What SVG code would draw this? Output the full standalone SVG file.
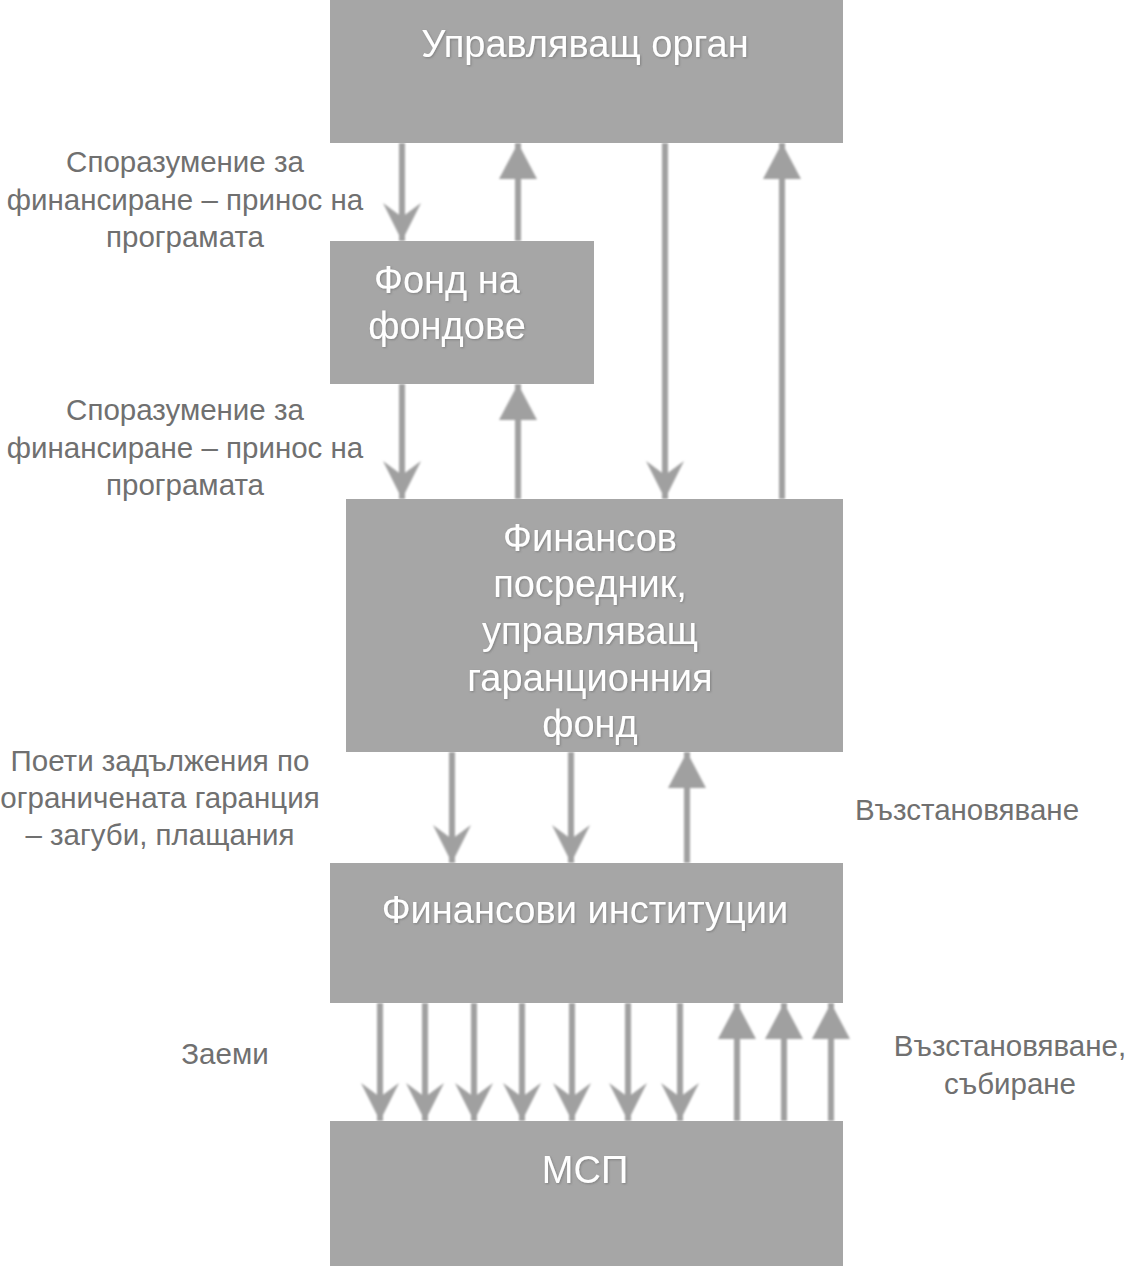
<svg xmlns="http://www.w3.org/2000/svg" width="1125" height="1266" viewBox="0 0 1125 1266">
<style>
.box{fill:#a6a6a6;}
.bt{font-family:"Liberation Sans",Arial,sans-serif;font-size:38px;fill:#ffffff;text-anchor:middle;}
.lb{font-family:"Liberation Sans",Arial,sans-serif;font-size:29.5px;fill:#707070;text-anchor:middle;}
.ar{stroke:#a0a0a0;stroke-width:6;fill:none;}
.dn{marker-end:url(#headV);}
.up{marker-end:url(#headT);}
</style>
<defs>
<marker id="headV" markerUnits="userSpaceOnUse" markerWidth="40" markerHeight="42" viewBox="0 -21 40 42" refX="38" refY="0" orient="auto">
<path d="M0,-19 L38,0 L0,19 L14,0 Z" fill="#a0a0a0"/>
</marker>
<marker id="headT" markerUnits="userSpaceOnUse" markerWidth="40" markerHeight="42" viewBox="0 -21 40 42" refX="36" refY="0" orient="auto">
<path d="M0,-19 L36,0 L0,19 Z" fill="#a0a0a0"/>
</marker>
<filter id="soft" x="-20%" y="-5%" width="140%" height="110%">
<feGaussianBlur stdDeviation="0.9"/>
</filter>
<filter id="tsh" x="-5%" y="-20%" width="110%" height="140%">
<feDropShadow dx="1" dy="1" stdDeviation="0.8" flood-color="#707070" flood-opacity="0.7"/>
</filter>
</defs>

<g id="connectors" filter="url(#soft)">
<line class="ar dn" x1="402" y1="143" x2="402" y2="241"/>
<line class="ar up" x1="518" y1="241" x2="518" y2="143"/>
<line class="ar dn" x1="665" y1="143" x2="665" y2="499"/>
<line class="ar up" x1="782" y1="499" x2="782" y2="143"/>
<line class="ar dn" x1="402" y1="384" x2="402" y2="499"/>
<line class="ar up" x1="518" y1="499" x2="518" y2="384"/>
<line class="ar dn" x1="452" y1="752" x2="452" y2="863"/>
<line class="ar dn" x1="571" y1="752" x2="571" y2="863"/>
<line class="ar up" x1="687" y1="863" x2="687" y2="752"/>
<line class="ar dn" x1="380" y1="1003" x2="380" y2="1121"/>
<line class="ar dn" x1="425" y1="1003" x2="425" y2="1121"/>
<line class="ar dn" x1="474" y1="1003" x2="474" y2="1121"/>
<line class="ar dn" x1="522" y1="1003" x2="522" y2="1121"/>
<line class="ar dn" x1="572" y1="1003" x2="572" y2="1121"/>
<line class="ar dn" x1="628" y1="1003" x2="628" y2="1121"/>
<line class="ar dn" x1="680" y1="1003" x2="680" y2="1121"/>
<line class="ar up" x1="737" y1="1121" x2="737" y2="1003"/>
<line class="ar up" x1="784" y1="1121" x2="784" y2="1003"/>
<line class="ar up" x1="831" y1="1121" x2="831" y2="1003"/>
</g>

<g id="node-upravlyavasht-organ">
<rect class="box" x="330" y="0" width="513" height="143"/>
<text class="bt" x="585" y="57" filter="url(#tsh)">Управляващ орган</text>
</g>

<g id="node-fond-na-fondove">
<rect class="box" x="330" y="241" width="264" height="143"/>
<text class="bt" x="447" y="293" filter="url(#tsh)">Фонд на</text>
<text class="bt" x="447" y="339" filter="url(#tsh)">фондове</text>
</g>

<g id="node-finansov-posrednik">
<rect class="box" x="346" y="499" width="497" height="253"/>
<text class="bt" x="590" y="551" filter="url(#tsh)">Финансов</text>
<text class="bt" x="590" y="597" filter="url(#tsh)">посредник,</text>
<text class="bt" x="590" y="644" filter="url(#tsh)">управляващ</text>
<text class="bt" x="590" y="691" filter="url(#tsh)">гаранционния</text>
<text class="bt" x="590" y="737" filter="url(#tsh)">фонд</text>
</g>

<g id="node-finansovi-institutsii">
<rect class="box" x="330" y="863" width="513" height="140"/>
<text class="bt" x="585" y="923" filter="url(#tsh)">Финансови институции</text>
</g>

<g id="node-msp">
<rect class="box" x="330" y="1121" width="513" height="145"/>
<text class="bt" x="585" y="1183" filter="url(#tsh)">МСП</text>
</g>

<g id="labels">
<text class="lb" x="185" y="172">Споразумение за</text>
<text class="lb" x="185" y="210">финансиране – принос на</text>
<text class="lb" x="185" y="247">програмата</text>
<text class="lb" x="185" y="420">Споразумение за</text>
<text class="lb" x="185" y="458">финансиране – принос на</text>
<text class="lb" x="185" y="495">програмата</text>
<text class="lb" x="160" y="771">Поети задължения по</text>
<text class="lb" x="160" y="808">ограничената гаранция</text>
<text class="lb" x="160" y="845">– загуби, плащания</text>
<text class="lb" x="967" y="820">Възстановяване</text>
<text class="lb" x="225" y="1064">Заеми</text>
<text class="lb" x="1010" y="1056">Възстановяване,</text>
<text class="lb" x="1010" y="1094">събиране</text>
</g>
</svg>
